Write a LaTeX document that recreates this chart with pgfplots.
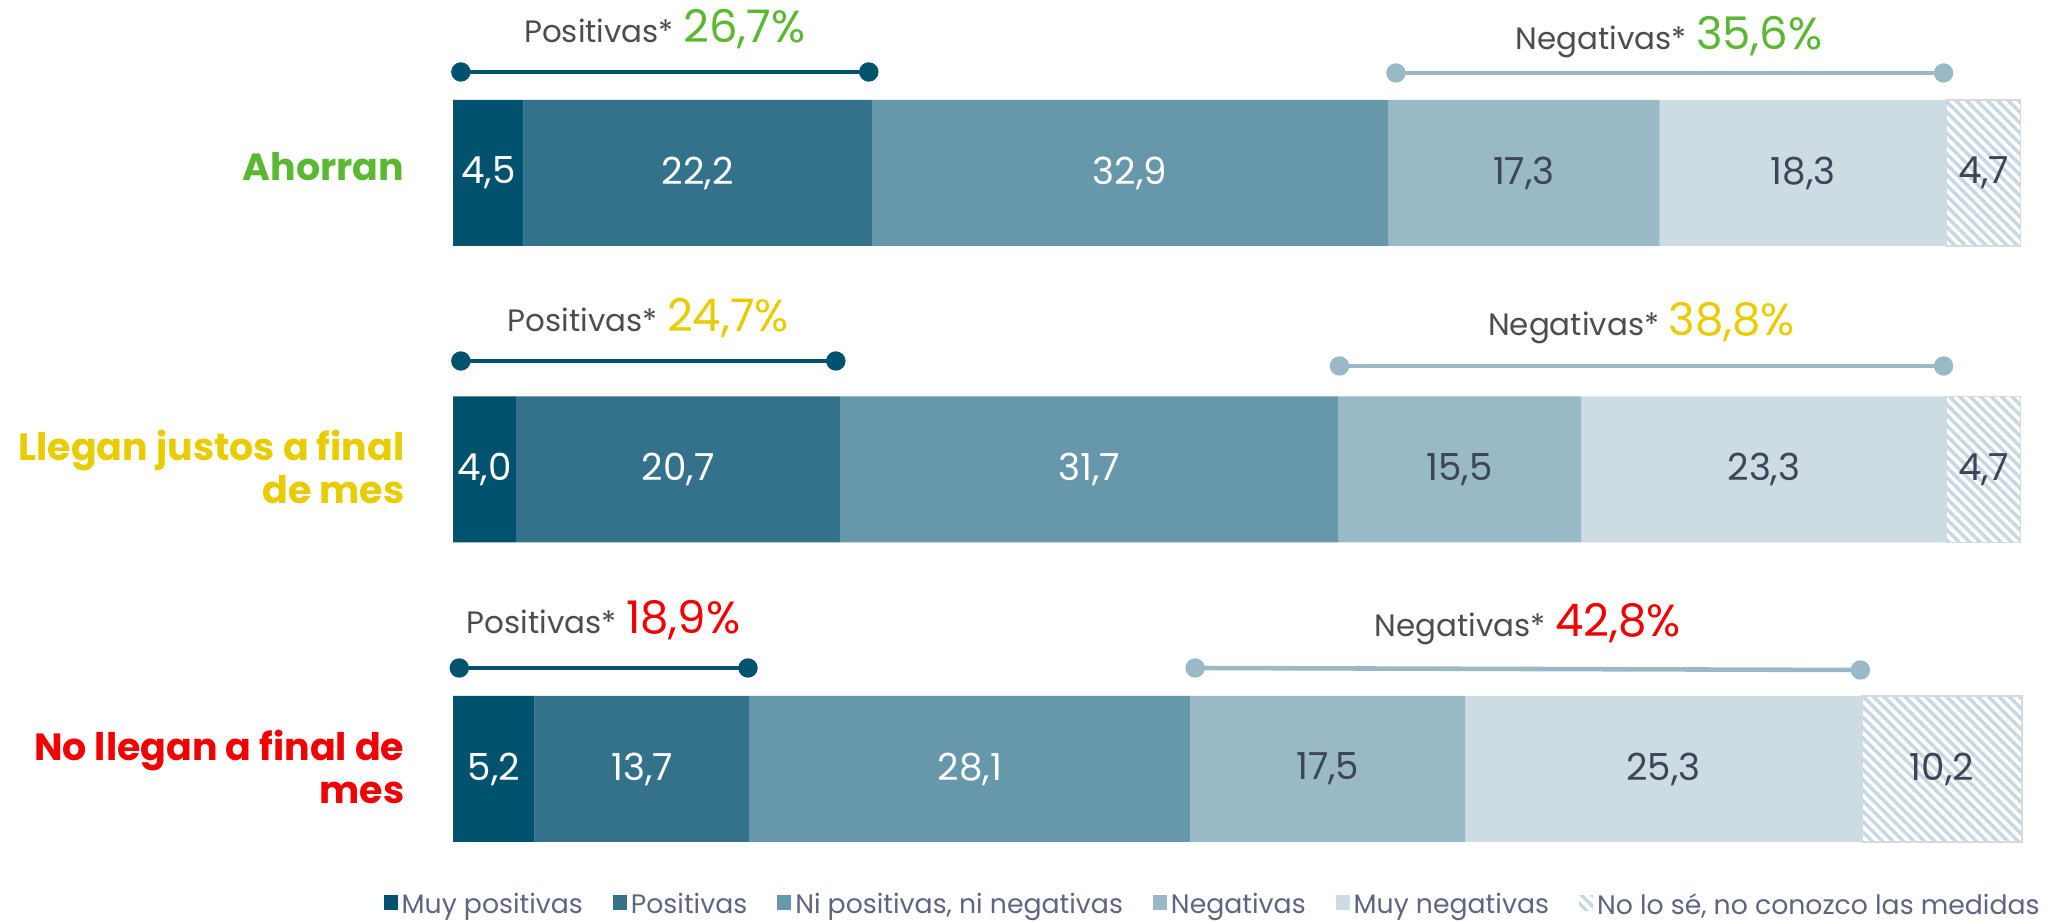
\documentclass[border=0pt]{standalone}
\usepackage{pgfplots}
\pgfplotsset{compat=1.18}
\usepackage{fontspec}
\setmainfont{Poppins}
\usetikzlibrary{patterns.meta}
\definecolor{c1}{HTML}{00526F}
\definecolor{c2}{HTML}{34728C}
\definecolor{c3}{HTML}{6797AB}
\definecolor{c4}{HTML}{9AB9C6}
\definecolor{c5}{HTML}{CCDCE2}
\definecolor{hatchc}{HTML}{C6D9E0}
\definecolor{hatchb}{HTML}{D9D9D9}
\definecolor{agreen}{HTML}{5CB832}
\definecolor{ayellow}{HTML}{E8CC00}
\definecolor{ared}{HTML}{F00000}
\definecolor{lblgray}{HTML}{4D4D4D}
\definecolor{valdark}{HTML}{3D4659}
\definecolor{legc}{HTML}{5E6484}
\newcommand{\brk}[3]{{\color{lblgray}\fontsize{8.8}{10}\selectfont #1*} {\color{#3}\fontsize{12.8}{13}\selectfont #2\%}}
\begin{document}
\begin{tikzpicture}
\useasboundingbox (0,0) rectangle (207mm,92.1mm);
\begin{axis}[
  at={(45.3mm,0mm)}, anchor=south west, scale only axis,
  width=156.9mm, height=92.1mm,
  xmin=0, xmax=100, ymin=-921, ymax=0,
  hide axis, clip=false,
  xbar stacked, bar width=14.6mm,
  legend columns=6,
  legend image code/.code={\fill[#1,draw=none] (0mm,-0.4mm) rectangle (1.4mm,1.1mm);},
  legend style={draw=none, fill=none, at={(-0.0446,-0.0035)}, anchor=south west,
    font=\fontsize{7.6}{8}\selectfont, text=legc, inner sep=0pt,
    nodes={inner sep=0.4mm},
    /tikz/every even column/.append style={column sep=2.6mm}},
  legend cell align=left,
]
\addplot[fill=c1, draw=none] coordinates {(4.5,-173) (4.0,-469.5) (5.2,-769)};
\addplot[fill=c2, draw=none] coordinates {(22.2,-173) (20.7,-469.5) (13.7,-769)};
\addplot[fill=c3, draw=none] coordinates {(32.9,-173) (31.7,-469.5) (28.1,-769)};
\addplot[fill=c4, draw=none] coordinates {(17.3,-173) (15.5,-469.5) (17.5,-769)};
\addplot[fill=c5, draw=none] coordinates {(18.3,-173) (23.3,-469.5) (25.3,-769)};
\addplot[pattern={Lines[angle=-45,distance=2.1pt,line width=1pt]}, pattern color=hatchc, draw=hatchb, line width=0.3pt] coordinates {(4.7,-173) (4.7,-469.5) (10.2,-769)};
\legend{Muy positivas, Positivas, {Ni positivas, ni negativas}, Negativas, Muy negativas, {No lo sé, no conozco las medidas}}
\end{axis}
\begin{axis}[
  at={(45.3mm,0mm)}, anchor=south west, scale only axis,
  width=156.9mm, height=92.1mm,
  xmin=0, xmax=100, ymin=-921, ymax=0,
  hide axis, clip=false,
]
% value labels
\addplot[draw=none, mark=none, nodes near coords, point meta=explicit symbolic,
  nodes near coords style={anchor=center, text=white, font=\fontsize{10.6}{11}\selectfont}]
  table[x=x, y=y, meta=l] {
x y l
2.25 -173 4,5
15.6 -173 22,2
43.15 -173 32,9
2.0 -469.5 4,0
14.35 -469.5 20,7
40.55 -469.5 31,7
2.6 -769 5,2
12.05 -769 13,7
32.95 -769 28,1
};
\addplot[draw=none, mark=none, nodes near coords, point meta=explicit symbolic,
  nodes near coords style={anchor=center, text=valdark, font=\fontsize{10.6}{11}\selectfont}]
  table[x=x, y=y, meta=l] {
x y l
68.25 -173 17,3
86.05 -173 18,3
97.55 -173 4,7
64.15 -469.5 15,5
83.55 -469.5 23,3
97.55 -469.5 4,7
55.75 -769 17,5
77.15 -769 25,3
94.9 -769 10,2
};
% brackets
\addplot[c1, line width=1.3pt, mark=*, mark size=2.1pt, mark options={fill=c1, draw=c1}] coordinates {(0.5,-72) (26.5,-72)};
\addplot[c4, line width=1.3pt, mark=*, mark size=2.1pt, mark options={fill=c4, draw=c4}] coordinates {(60.1,-73) (95.0,-73)};
\addplot[c1, line width=1.3pt, mark=*, mark size=2.1pt, mark options={fill=c1, draw=c1}] coordinates {(0.5,-361) (24.4,-361)};
\addplot[c4, line width=1.3pt, mark=*, mark size=2.1pt, mark options={fill=c4, draw=c4}] coordinates {(56.5,-366) (95.0,-366)};
\addplot[c1, line width=1.3pt, mark=*, mark size=2.1pt, mark options={fill=c1, draw=c1}] coordinates {(0.4,-668) (18.8,-668)};
\addplot[c4, line width=1.3pt, mark=*, mark size=2.1pt, mark options={fill=c4, draw=c4}] coordinates {(47.3,-668) (89.7,-670)};
\node[anchor=base, inner sep=0] at (axis cs:13.5,-43) {\brk{Positivas}{26,7}{agreen}};
\node[anchor=base, inner sep=0] at (axis cs:77.5,-50) {\brk{Negativas}{35,6}{agreen}};
\node[anchor=base, inner sep=0] at (axis cs:12.45,-332) {\brk{Positivas}{24,7}{ayellow}};
\node[anchor=base, inner sep=0] at (axis cs:75.75,-336) {\brk{Negativas}{38,8}{ayellow}};
\node[anchor=base, inner sep=0] at (axis cs:9.6,-634) {\brk{Positivas}{18,9}{ared}};
\node[anchor=base, inner sep=0] at (axis cs:68.5,-637) {\brk{Negativas}{42,8}{ared}};
% category labels
\node[anchor=east, align=right, inner sep=0, text=agreen, font=\bfseries\fontsize{10.8}{12.2}\selectfont] at (axis cs:-3.06,-167) {Ahorran};
\node[anchor=east, align=right, inner sep=0, text=ayellow, font=\bfseries\fontsize{10.8}{12.2}\selectfont] at (axis cs:-3.06,-467) {Llegan justos a final\\de mes};
\node[anchor=east, align=right, inner sep=0, text=ared, font=\bfseries\fontsize{10.8}{12.2}\selectfont] at (axis cs:-3.06,-767) {No llegan a final de\\mes};
\end{axis}
\end{tikzpicture}
\end{document}
